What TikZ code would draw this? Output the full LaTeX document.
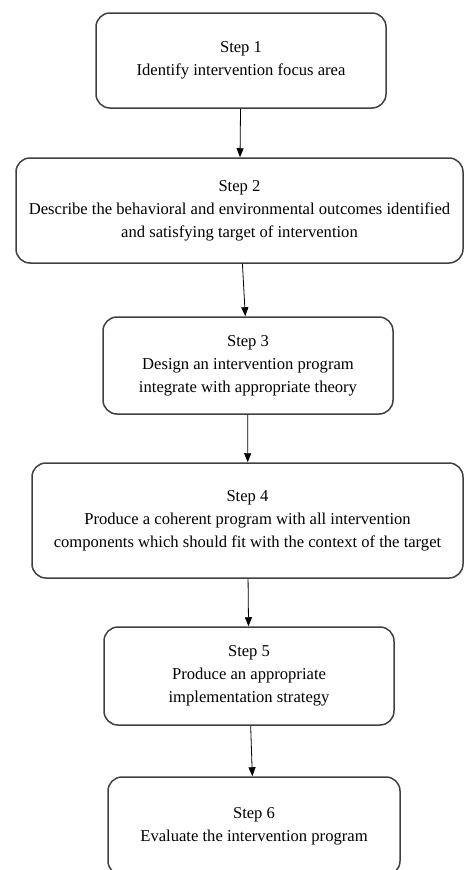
\documentclass[tikz,border=0pt]{standalone}
\usepackage{fontspec}
\setmainfont{Liberation Serif}
\usetikzlibrary{arrows.meta}

\begin{document}
\begin{tikzpicture}[x=1pt,y=-1pt,
    stepbox/.style={draw=black!75,line width=1.5pt,rounded corners=14pt,
        align=center,inner sep=0pt,font=\fontsize{16.6}{23}\selectfont}]
\useasboundingbox (0,0) rectangle (465,870);
\begin{scope}[every node/.style={stepbox}]
    \node[minimum width=290,minimum height=95] (S1) at (241,60.5)
        {Step 1\\Identify intervention focus area};
    \node[minimum width=447,minimum height=105] (S2) at (239.5,210.5)
        {Step 2\\Describe the behavioral and environmental outcomes identified\\and satisfying target of intervention};
    \node[minimum width=290,minimum height=97] (S3) at (248,365.5)
        {Step 3\\Design an intervention program\\integrate with appropriate theory};
    \node[minimum width=431,minimum height=115] (S4) at (247.5,520.5)
        {Step 4\\Produce a coherent program with all intervention\\components which should fit with the context of the target};
    \node[minimum width=290,minimum height=98] (S5) at (249,676)
        {Step 5\\Produce an appropriate\\implementation strategy};
    \node[minimum width=292,minimum height=98] (S6) at (254,826)
        {Step 6\\Evaluate the intervention program};
\end{scope}
\begin{scope}[every edge/.style={draw=black,line width=0.8pt}]
    \path [-{Triangle[length=9pt,width=7pt]}] (S1) edge (S2);
    \path [-{Triangle[length=9pt,width=7pt]}] (S2) edge (S3);
    \path [-{Triangle[length=9pt,width=7pt]}] (S3) edge (S4);
    \path [-{Triangle[length=9pt,width=7pt]}] (S4) edge (S5);
    \path [-{Triangle[length=9pt,width=7pt]}] (S5) edge (S6);
\end{scope}
\end{tikzpicture}
\end{document}
